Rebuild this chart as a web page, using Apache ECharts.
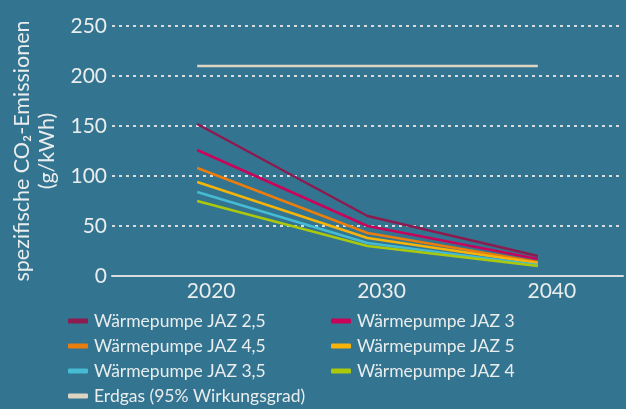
<!DOCTYPE html>
<html><head><meta charset="utf-8">
<script src="https://cdn.jsdelivr.net/npm/echarts@6/dist/echarts.min.js"></script>
<style>html,body{margin:0;padding:0;background:#337491;}#c{width:626px;height:409px;}</style>
</head><body><div id="c"></div>
<script>
const years = [2020, 2030, 2040];
const jaz25 = [152, 60, 20];
const jaz3 = [126, 50, 17];
const jaz45 = [108, 43, 14];
const jaz5 = [94, 38, 13];
const jaz35 = [84, 33, 11];
const jaz4 = [75, 30, 10];
const erdgas = [210, 210, 210];
const yTicks = [0, 50, 100, 150, 200, 250];
const xTickLabels = [2020, 2030, 2040];

const seriesDefs = [
  {name: 'Wärmepumpe JAZ 2,5', data: jaz25, color: '#8c1b4f'},
  {name: 'Wärmepumpe JAZ 3', data: jaz3, color: '#c8045a'},
  {name: 'Wärmepumpe JAZ 4,5', data: jaz45, color: '#ea7d0c'},
  {name: 'Wärmepumpe JAZ 5', data: jaz5, color: '#f6b40a'},
  {name: 'Wärmepumpe JAZ 3,5', data: jaz35, color: '#46bcd2'},
  {name: 'Wärmepumpe JAZ 4', data: jaz4, color: '#abc80c'},
  {name: 'Erdgas (95% Wirkungsgrad)', data: erdgas, color: '#ddd5c2'}
];
const FONT = 'Lato';
const TXT = '#e9eded';
const legendBase = {
  orient: 'vertical', itemGap: 5, itemWidth: 20, itemHeight: 5, icon: 'roundRect',
  padding: 0, height: 100,
  itemStyle: {borderWidth: 0},
  textStyle: {color: TXT, fontSize: 17.5, fontFamily: FONT, lineHeight: 20, padding: [0,0,0,1]}
};
const chart = echarts.init(document.getElementById('c'));
chart.setOption({
  backgroundColor: '#337491',
  animation: false,
  grid: {left: 112, right: 0, top: 26, bottom: 133},
  legend: [
    Object.assign({}, legendBase, {left: 68, top: 311, data: [seriesDefs[0].name, seriesDefs[2].name, seriesDefs[4].name, seriesDefs[6].name]}),
    Object.assign({}, legendBase, {left: 331, top: 311, data: [seriesDefs[1].name, seriesDefs[3].name, seriesDefs[5].name]})
  ],
  xAxis: {
    type: 'value', min: 2015, max: 2045, interval: 5,
    axisLine: {show: true, lineStyle: {color: '#d8dcdc', width: 2}},
    axisTick: {show: false},
    splitLine: {show: false},
    axisLabel: {color: TXT, fontSize: 21, fontFamily: FONT, margin: 5, padding: [0, 0, 0, 28],
      formatter: v => xTickLabels.includes(v) ? String(v) : ''}
  },
  yAxis: {
    type: 'value', min: yTicks[0], max: yTicks[yTicks.length-1], interval: 50,
    axisLine: {show: false}, axisTick: {show: false},
    axisLabel: {color: TXT, fontSize: 21, fontFamily: FONT, margin: 5, padding: [0, 0, 8, 0]},
    splitLine: {lineStyle: {color: '#d8dcdc', width: 2, type: [3, 4]}},
    name: 'spezifische CO₂-Emissionen\n(g/kWh)',
    nameLocation: 'middle', nameRotate: 90, nameGap: 35,
    nameTextStyle: {color: TXT, fontSize: 21.5, fontFamily: FONT, lineHeight: 25}
  },
  series: seriesDefs.map(s => ({
    name: s.name, type: 'line', symbol: 'none',
    data: years.map((y, i) => [y, s.data[i]]),
    lineStyle: {color: s.color, width: 2.5},
    itemStyle: {color: s.color},
    z: s.name.startsWith('Erdgas') ? 1 : 2
  }))
});
</script></body></html>
